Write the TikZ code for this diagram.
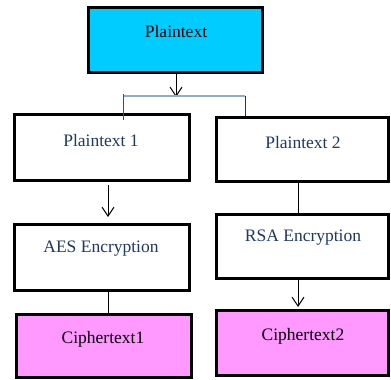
\documentclass[tikz,border=0pt]{standalone}
\usepackage{fontspec}
\setmainfont{Liberation Serif}
\usetikzlibrary{arrows.meta}
\definecolor{topcyan}{RGB}{0,204,255}
\definecolor{ctpink}{RGB}{255,153,255}
\definecolor{navytext}{RGB}{31,56,100}
\definecolor{branchblue}{RGB}{143,170,215}
\tikzset{
  box/.style={draw=black, line width=3pt, inner sep=0pt},
  lbl/.style={inner sep=0pt, font=\fontsize{17.5}{20}\selectfont},
  conn/.style={line width=1pt, draw=black},
  arr/.style={conn, -{Straight Barb[length=9pt,width=12pt,line width=1pt]}},
}
\begin{document}
\begin{tikzpicture}[x=1pt,y=-1pt]
\useasboundingbox (0,0) rectangle (391,380);
% boxes (outer edges measured, minus line width)
\node[box, fill=topcyan, minimum width=174pt, minimum height=65pt] (top) at (175.5,40) {};
\node[box, fill=white, minimum width=175pt, minimum height=66pt] (p1) at (102,147.5) {};
\node[box, fill=white, minimum width=172pt, minimum height=64pt] (p2) at (302.5,149.5) {};
\node[box, fill=white, minimum width=175pt, minimum height=66pt] (aes) at (102,257.5) {};
\node[box, fill=white, minimum width=172pt, minimum height=64pt] (rsa) at (302.5,246.5) {};
\node[box, fill=ctpink, minimum width=175pt, minimum height=63pt] (c1) at (104,346) {};
\node[box, fill=ctpink, minimum width=172pt, minimum height=65pt] (c2) at (302.5,343) {};
% texts
\node[lbl] (ttop) at (176,32) {Plaintext};
\node[lbl, text=navytext] (tp1) at (101,141) {Plaintext 1};
\node[lbl, text=navytext] (tp2) at (303,143) {Plaintext 2};
\node[lbl, text=navytext] (taes) at (101,249) {AES Encryption};
\node[lbl, text=navytext] (trsa) at (303,238) {RSA Encryption};
\node[lbl] (tc1) at (103,339) {Ciphertext1};
\node[lbl] (tc2) at (303,336) {Ciphertext2};
% branch
\coordinate (bl) at (123,96);
\coordinate (br) at (245,96);
\coordinate (bm) at (176,97);
\coordinate (blt) at (123,94);
\coordinate (bld) at (123,120);
\coordinate (brd) at (245,116);
\draw[arr] (top.south -| bm) -- (bm);
\draw[draw=branchblue, line width=1.5pt] (bl) -- (br);
\draw[conn, draw=black!70] (blt) -- (bld);
\draw[conn, draw=black!80] (br) -- (brd);
% vertical connectors
\coordinate (a1s) at (108,185);
\coordinate (a1e) at (108,217);
\draw[arr] (a1s) -- (a1e);
\draw[conn] (p2.south -| 298,0) -- (rsa.north -| 298,0);
\draw[conn] (aes.south -| 108,0) -- (c1.north -| 108,0);
\coordinate (a4e) at (298,307);
\draw[arr] (rsa.south -| a4e) -- (a4e);
\end{tikzpicture}
\end{document}
